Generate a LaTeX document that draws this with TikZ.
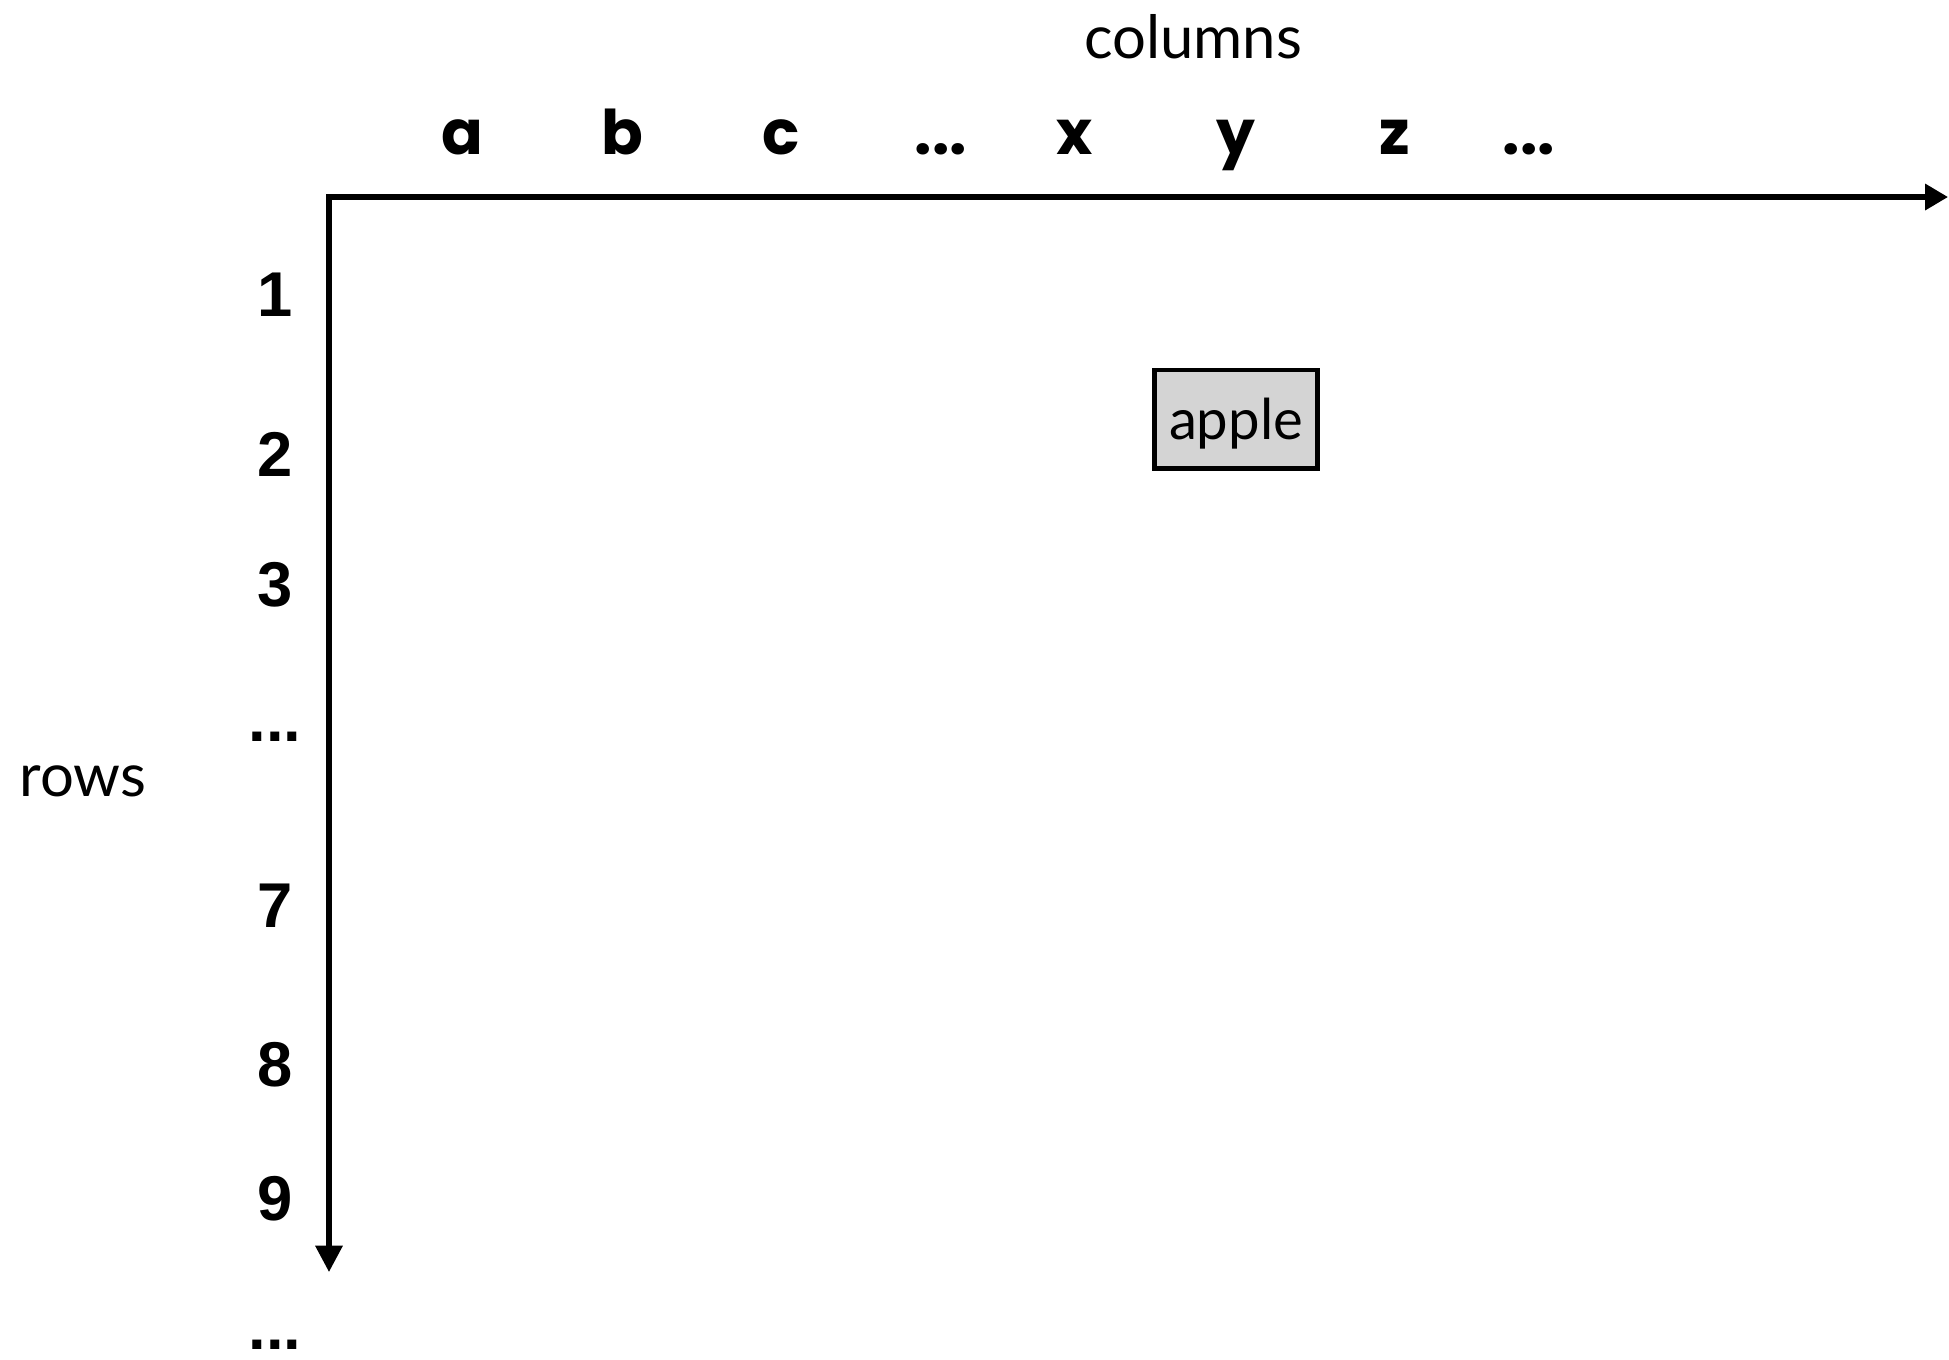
\documentclass[tikz,border=0pt]{standalone}
\usepackage{fontspec}
\setmainfont{Lato}
\newfontfamily\numfont{Liberation Sans}
\newfontfamily\letfont{Poppins}
\usetikzlibrary{arrows.meta, calc}
\def\scale{0.01}
\def\gap{...}

\tikzset{
	colhead/.style={font=\letfont\bfseries\fontsize{17.5}{20}\selectfont, anchor=base, inner sep=0pt},
	rowhead/.style={font=\numfont\bfseries\fontsize{18}{20}\selectfont, inner sep=0pt},
	axislabel/.style={font=\fontsize{17}{20}\selectfont, inner sep=0pt},
	axis/.style={line width=1.5pt, {Triangle[length=7.5pt,width=7.5pt]}-{Triangle[length=6.5pt,width=7.2pt]}},
	cellbox/.style={draw, line width=1.4pt, fill=black!17, inner sep=0pt, minimum width=1.63cm, minimum height=0.98cm, text height=14.5pt, text depth=2.6pt, font=\fontsize{16}{18}\selectfont}
}

\begin{document}
\begin{tikzpicture}[x=\scale cm, y=\scale cm]

	\useasboundingbox (0,0) rectangle (1949,-1359);

	\coordinate (origin) at (329,-197);
	\coordinate (colend) at (1948,-197);
	\coordinate (rowend) at (329,-1272);

	\draw[axis] (rowend) -- (origin) -- (colend);

	\node[axislabel] (columns) at (1193,-37) {columns};
	\node[axislabel] (rows) at (83,-781) {rows};

	\foreach \lbl/\xx [count=\i] in {a/462, b/622, c/781, \gap/941, x/1075, y/1236, z/1395, \gap/1529}
		\node[colhead] (col\i) at (\xx,-154) {\lbl};

	\foreach \lbl/\yy [count=\i] in {1/295, 2/454, 3/585, \gap/737, 7/906, 8/1065, 9/1199, \gap/1345}
		\node[rowhead] (row\i) at (275,-\yy) {\lbl};

	\node[cellbox] (apple) at (1236,-419) {apple};

\end{tikzpicture}
\end{document}
